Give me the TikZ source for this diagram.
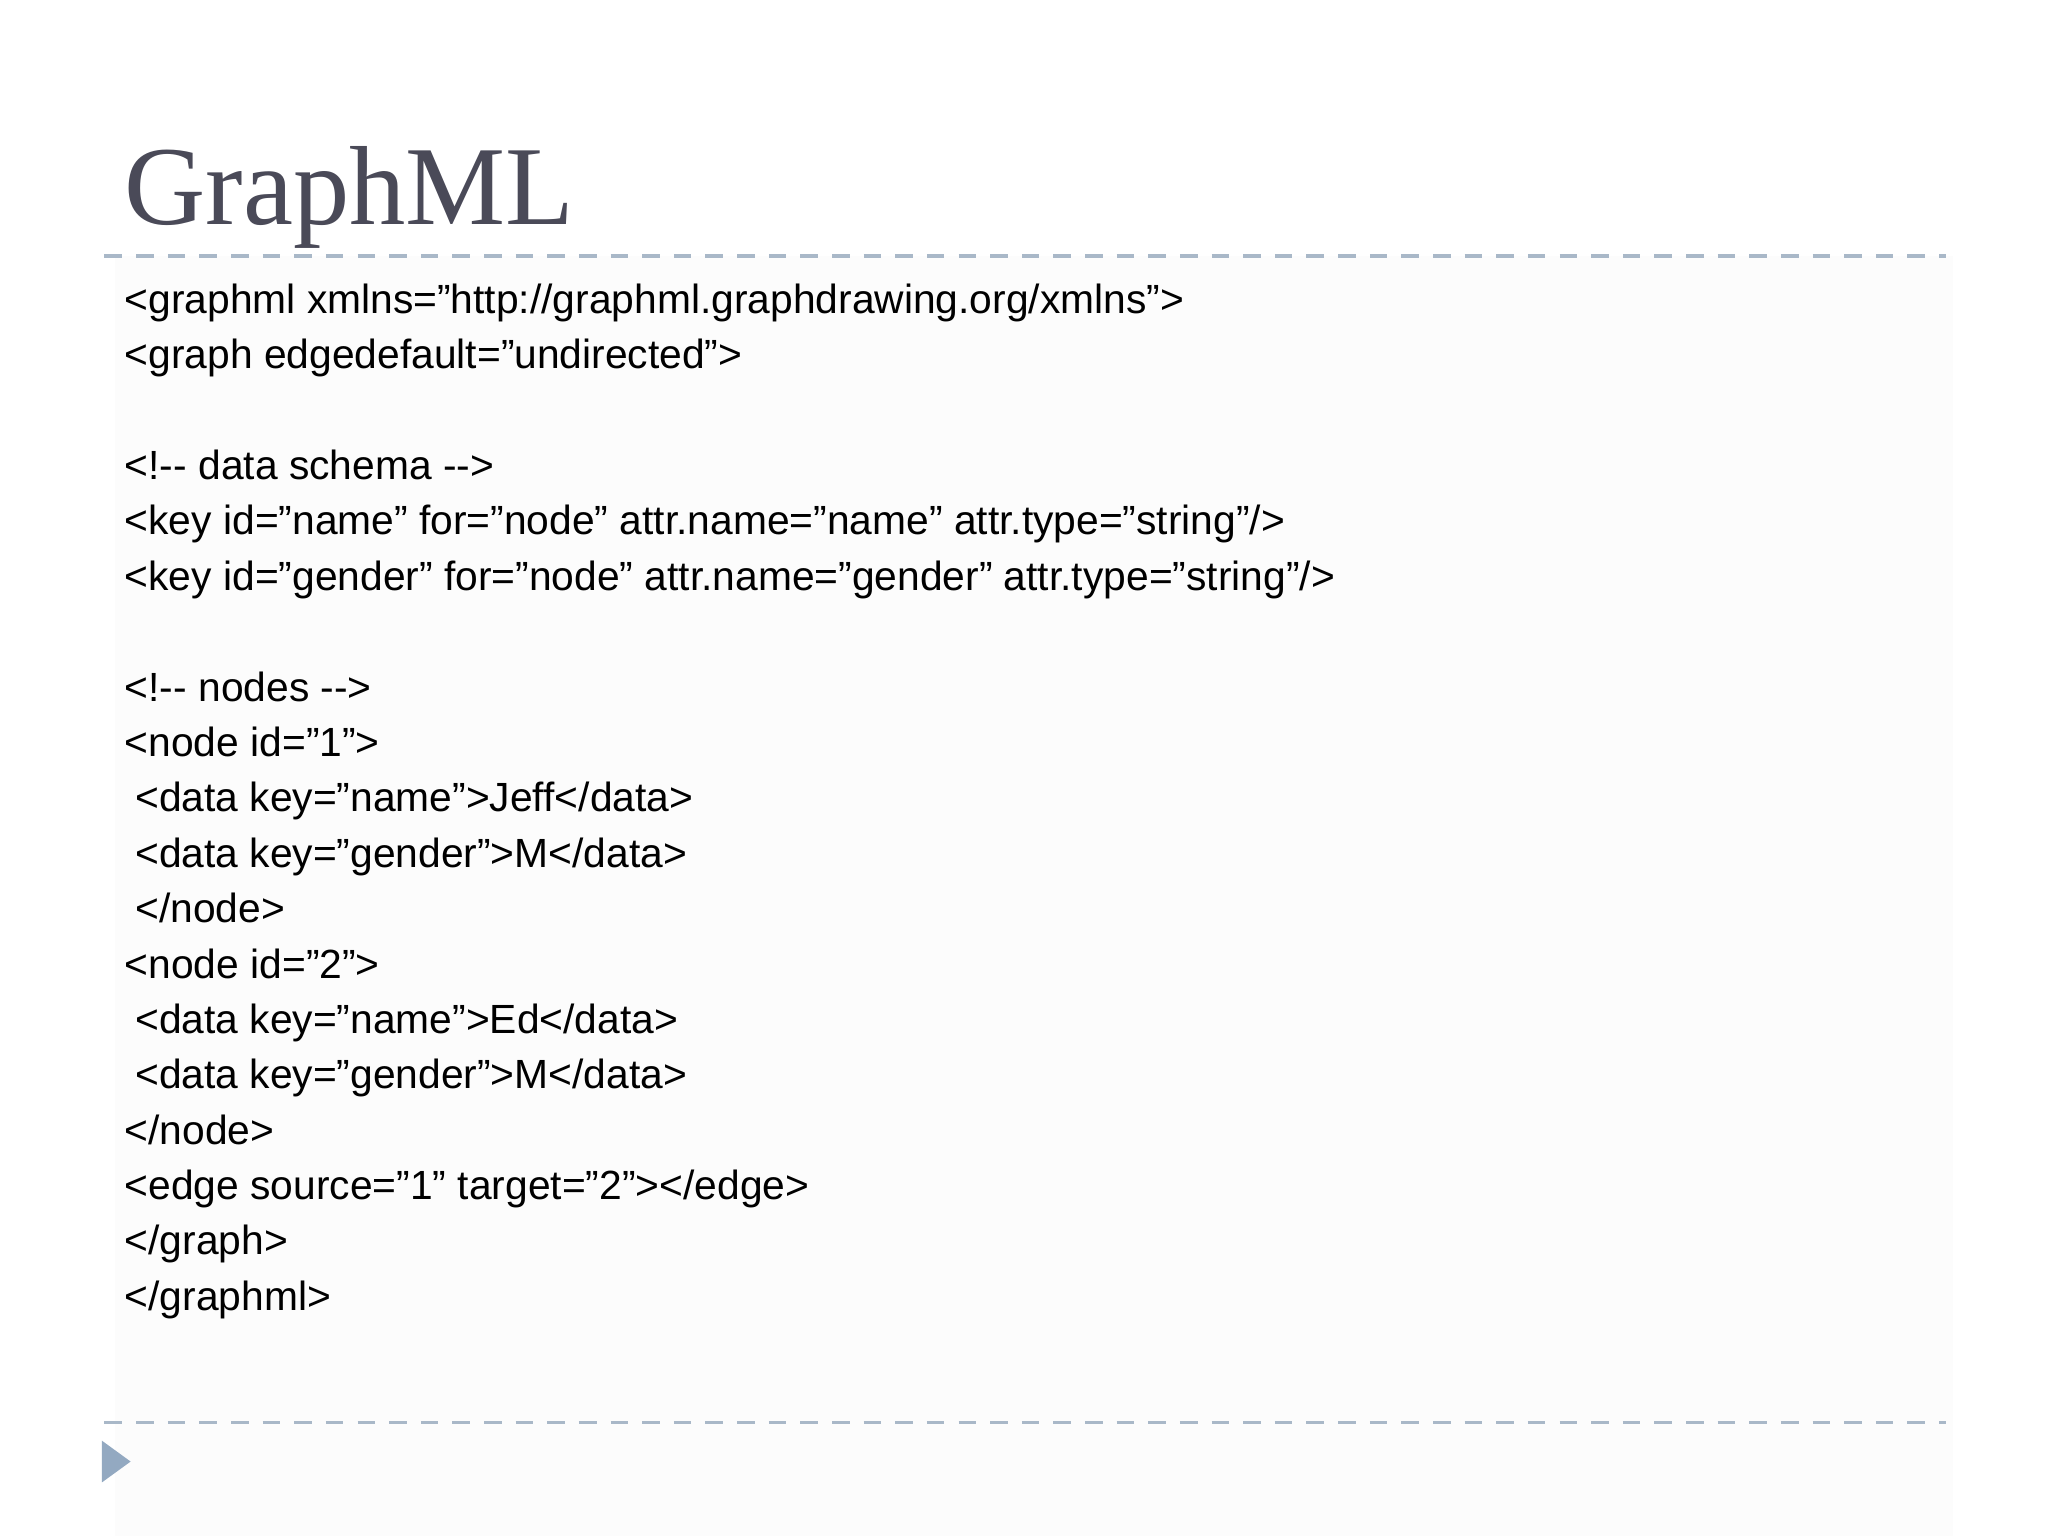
\documentclass[tikz,border=0pt]{standalone}
\usepackage{fontspec}
\setmainfont{Liberation Sans}
\newfontfamily\titlefont{Liberation Serif}
\definecolor{titlec}{HTML}{4A4A58}
\definecolor{dashc}{HTML}{A9B8C8}
\definecolor{tric}{HTML}{93A9C1}
\tikzset{codeline/.style={anchor=base west,inner sep=0pt,font=\fontsize{11.6pt}{13pt}\selectfont,text=black}}
\begin{document}
\begin{tikzpicture}[x=0.01306cm,y=-0.01306cm]
\useasboundingbox (0,0) rectangle (1568,1176);
\fill[gray!2] (88,196) rectangle (1495,1176);
\node[anchor=base west,inner sep=0pt,text=titlec,font=\titlefont\fontsize{32pt}{36pt}\selectfont] (title) at (95,172) {GraphML};
\draw[dashc,line width=1pt,dash pattern=on 5pt off 4pt] (80,196) -- (1490,196);
\draw[dashc,line width=1pt,dash pattern=on 5pt off 4pt] (80,1089) -- (1490,1089);
\fill[tric] (78,1103) -- (100,1119) -- (78,1135) -- cycle;
\foreach \i/\x/\t in {
0/95/{<graphml xmlns="http://graphml.graphdrawing.org/xmlns">},
1/95/{<graph edgedefault="undirected">},
3/95/{<!-{}- data schema -{}->},
4/95/{<key id="name" for="node" attr.name="name" attr.type="string"/>},
5/95/{<key id="gender" for="node" attr.name="gender" attr.type="string"/>},
7/95/{<!-{}- nodes -{}->},
8/95/{<node id="1">},
9/103/{<data key="name">Jeff</data>},
10/103/{<data key="gender">M</data>},
11/103/{</node>},
12/95/{<node id="2">},
13/103/{<data key="name">Ed</data>},
14/103/{<data key="gender">M</data>},
15/95/{</node>},
16/95/{<edge source="1" target="2"></edge>},
17/95/{</graph>},
18/95/{</graphml>}}
{\node[codeline] (l\i) at (\x,240+42.4*\i) {\t};}
\end{tikzpicture}
\end{document}
